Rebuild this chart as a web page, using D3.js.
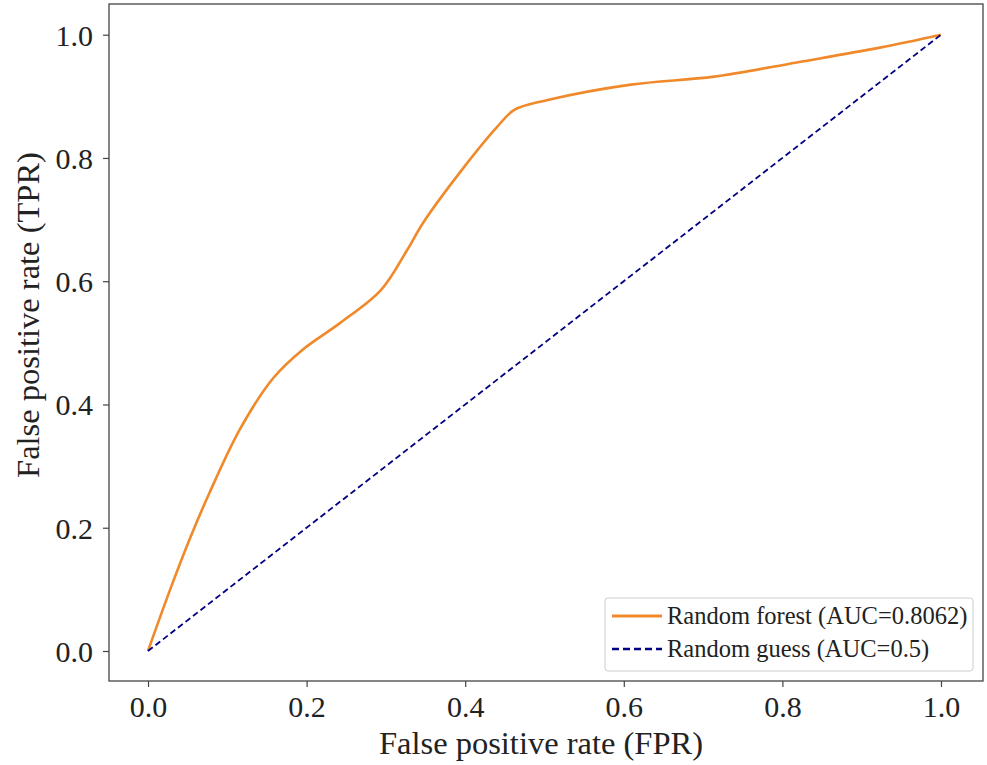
<!DOCTYPE html>
<html><head><meta charset="utf-8">
<script src="https://cdn.jsdelivr.net/npm/d3@7"></script>
<style>body{margin:0;background:#fff;} svg{display:block;}</style>
</head><body>
<svg id="c" width="987" height="765"></svg>
<script>
const fpr = [0,0.028,0.053,0.078,0.116,0.158,0.195,0.242,0.294,0.327,0.347,0.399,0.44,0.462,0.504,0.609,0.714,0.818,0.923,1.0];
const tpr = [0,0.1,0.183,0.258,0.36,0.443,0.489,0.532,0.586,0.651,0.695,0.786,0.85,0.878,0.894,0.919,0.932,0.955,0.979,1.0];
const guessX = [0,1];
const guessY = [0,1];
const ticks = [0,0.2,0.4,0.6,0.8,1.0];
const seriesNames = ["Random forest (AUC=0.8062)","Random guess (AUC=0.5)"];

const svg = d3.select("#c");
const font = "'Liberation Serif','Times New Roman',serif";
const L=109,R=983,T=4,B=681;
const x = d3.scaleLinear().domain([0,1]).range([148,941]);
const y = d3.scaleLinear().domain([0,1]).range([651,34.7]);

// axes
const xa = svg.append("g").attr("transform",`translate(0,${B})`)
  .call(d3.axisBottom(x).tickValues(ticks).tickFormat(d3.format(".1f")).tickSize(6).tickPadding(6));
const ya = svg.append("g").attr("transform",`translate(${L},0)`)
  .call(d3.axisLeft(y).tickValues(ticks).tickFormat(d3.format(".1f")).tickSize(6).tickPadding(10));
[xa,ya].forEach(a=>{
  a.select(".domain").remove();
  a.selectAll("line").attr("stroke","#444").attr("stroke-width",1.2);
  a.selectAll("text").attr("font-family",font).attr("font-size",30).attr("fill","#222");
});
xa.selectAll("text").attr("dy","0.8em");
ya.selectAll("text").attr("dy","0.35em");

svg.append("rect").attr("x",L).attr("y",T).attr("width",R-L).attr("height",B-T)
  .attr("fill","none").attr("stroke","#444").attr("stroke-width",1.3);

const line = d3.line().x(d=>x(d[0])).y(d=>y(d[1])).curve(d3.curveCatmullRom.alpha(0.5));
svg.append("path").datum(fpr.map((v,i)=>[v,tpr[i]])).attr("d",line)
  .attr("fill","none").attr("stroke","#f0892a").attr("stroke-width",2.6);
svg.append("path").datum(guessX.map((v,i)=>[v,guessY[i]])).attr("d",d3.line().x(d=>x(d[0])).y(d=>y(d[1])))
  .attr("fill","none").attr("stroke","#000080").attr("stroke-width",1.8).attr("stroke-dasharray","6,3.5");

// labels
svg.append("text").attr("x",(L+R)/2-5).attr("y",754).attr("text-anchor","middle")
  .attr("font-family",font).attr("font-size",32.5).attr("fill","#222").text("False positive rate (FPR)");
svg.append("text").attr("transform",`translate(39,${315}) rotate(-90)`).attr("text-anchor","middle")
  .attr("font-family",font).attr("font-size",32.5).attr("fill","#222").text("False positive rate (TPR)");

// legend
const lg = svg.append("g");
lg.append("rect").attr("x",605).attr("y",598).attr("width",368).attr("height",73).attr("rx",3)
  .attr("fill","#fff").attr("fill-opacity",0.8).attr("stroke","#ccc").attr("stroke-width",1);
const styles=[{c:"#f0892a",w:3.2,d:null},{c:"#000080",w:2.6,d:"7,4"}];
seriesNames.forEach((n,i)=>{
  const yy=616+i*33;
  lg.append("line").attr("x1",612).attr("x2",662).attr("y1",yy).attr("y2",yy)
    .attr("stroke",styles[i].c).attr("stroke-width",styles[i].w).attr("stroke-dasharray",styles[i].d);
  lg.append("text").attr("x",667).attr("y",yy).attr("dy","0.33em").attr("font-family",font)
    .attr("font-size",24.5).attr("fill","#222").text(n);
});
</script>
</body></html>
